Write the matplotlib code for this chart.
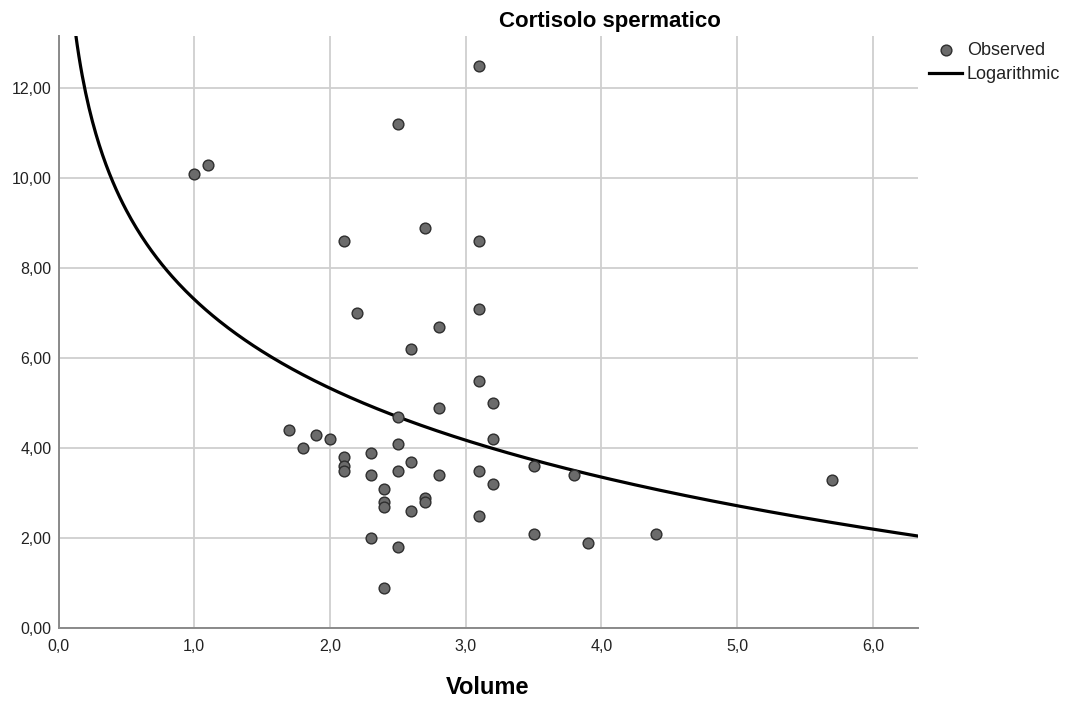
import numpy as np
import matplotlib
matplotlib.use("Agg")
import matplotlib.pyplot as plt
from matplotlib.ticker import FuncFormatter, MultipleLocator

plt.rcParams['font.family'] = ['Liberation Sans', 'DejaVu Sans']

# osservazioni (Volume, Cortisolo spermatico)
volume = [1.0, 1.1, 2.5, 3.1, 2.1, 2.7, 3.1, 3.1, 2.2, 2.8, 2.6, 3.1, 3.2, 2.8,
          2.5, 1.7, 1.9, 2.0, 3.2, 2.5, 1.8, 2.3, 2.1, 2.6, 2.1, 2.1, 3.5, 2.5,
          3.1, 2.3, 2.8, 3.8, 5.7, 3.2, 2.4, 2.7, 2.7, 2.4, 2.4, 2.6, 3.1, 3.5,
          4.4, 2.3, 3.9, 2.5, 2.4]
cortisolo = [10.1, 10.3, 11.2, 12.5, 8.6, 8.9, 8.6, 7.1, 7.0, 6.7, 6.2, 5.5, 5.0, 4.9,
             4.7, 4.4, 4.3, 4.2, 4.2, 4.1, 4.0, 3.9, 3.8, 3.7, 3.6, 3.5, 3.6, 3.5,
             3.5, 3.4, 3.4, 3.4, 3.3, 3.2, 3.1, 2.9, 2.8, 2.8, 2.7, 2.6, 2.5, 2.1,
             2.1, 2.0, 1.9, 1.8, 0.9]

# modello logaritmico y = b0 + b1*ln(x)
b0 = 7.31
b1 = -2.85

x_max = 6.33
y_max = 13.16

fig = plt.figure(figsize=(10.7, 7.02), dpi=100)
ax = fig.add_axes([58.5 / 1070, 1 - 628.3 / 702, (917.7 - 58.5) / 1070, (628.3 - 36) / 702])

xx = np.linspace(0.1, x_max, 500)
ax.plot(xx, b0 + b1 * np.log(xx), color='black', lw=2.3, label='Logarithmic', zorder=3)
ax.scatter(volume, cortisolo, s=60, facecolor='#6b6b6b', edgecolor='#2e2e2e',
           linewidth=1.0, label='Observed', zorder=4)

ax.set_xlim(0, x_max)
ax.set_ylim(0, y_max)
ax.xaxis.set_major_locator(MultipleLocator(1))
ax.yaxis.set_major_locator(MultipleLocator(2))
ax.xaxis.set_major_formatter(FuncFormatter(lambda v, p: f"{v:.1f}".replace('.', ',')))
ax.yaxis.set_major_formatter(FuncFormatter(lambda v, p: f"{v:.2f}".replace('.', ',')))
ax.tick_params(length=0, labelsize=11.5, colors='#222222', pad=5)
ax.tick_params(axis='x', pad=8)

ax.grid(True, color='#cfcfcf', lw=1.3)
ax.set_axisbelow(True)
for s in ['top', 'right']:
    ax.spines[s].set_visible(False)
for s in ['left', 'bottom']:
    ax.spines[s].set_color('#8a8a8a')
    ax.spines[s].set_linewidth(1.4)

fig.text(609.5 / 1070, 1 - 21 / 702, 'Cortisolo spermatico', ha='center', va='center',
         fontsize=16, fontweight='bold')
fig.text(488 / 1070, 1 - 688 / 702, 'Volume', ha='center', va='center',
         fontsize=17, fontweight='bold')

h, l = ax.get_legend_handles_labels()
fig.legend([h[1], h[0]], [l[1], l[0]], loc='upper left',
           bbox_to_anchor=(929 / 1070, 1 - 42 / 702), frameon=False,
           fontsize=13, handlelength=1.85, handletextpad=0.25, labelspacing=0.38,
           borderaxespad=0, borderpad=0, labelcolor='#222222')

fig.savefig('out.png', dpi=100)
